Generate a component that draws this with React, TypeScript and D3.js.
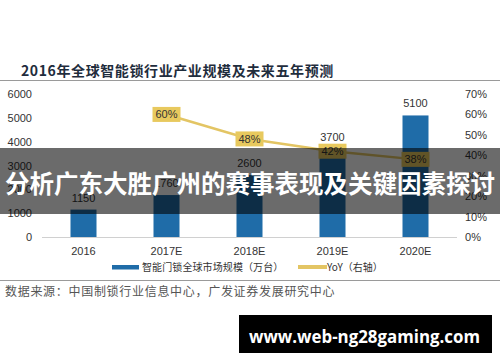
import React from 'react';
import * as d3 from 'd3';

const categories = ['2016', '2017E', '2018E', '2019E', '2020E'];
const marketSize = [1150, 1760, 2600, 3700, 5100];
const yoyCategories = ['2017E', '2018E', '2019E', '2020E'];
const yoyValues = [60, 48, 42, 38];
const leftTicks = [0, 1000, 2000, 3000, 4000, 5000, 6000];
const rightTicks = [0, 10, 20, 30, 40, 50, 60, 70];

const W = 500;
const H = 362;
const sans = "'Liberation Sans', Arial, sans-serif";
const cjk = "'Noto Sans CJK SC', 'Noto Sans', sans-serif";

export default function App() {
    // plot area
    const left = 42, right = 457, top = 94, bottom = 237;

    const x = d3.scaleBand().domain(categories).range([left, right]);
    const y = d3.scaleLinear().domain([0, 6000]).range([bottom, top]);
    const y2 = d3.scaleLinear().domain([0, 70]).range([bottom, top]);
    const barW = 26;

    const line = d3.line<number>()
        .x((_, i) => (x(yoyCategories[i]) as number) + x.bandwidth() / 2)
        .y(d => y2(d));

    return (
        <svg width={W} height={H} style={{ position: 'absolute', left: 0, top: 0, background: '#fff' }}>
            {/* title */}
            <text x={21} y={76} fontFamily={cjk} fontWeight={700} fontSize={14} fill="#1f2d3d" letterSpacing={0.6}>
                2016年全球智能锁行业产业规模及未来五年预测
            </text>
            <line x1={0} x2={W} y1={80.5} y2={80.5} stroke="#9a9a9a" strokeWidth={1} />

            {/* left axis */}
            {leftTicks.map(t => (
                <text key={'l' + t} x={32} y={y(t) + 4} textAnchor="end" fontFamily={sans} fontSize={11} fill="#333">{t}</text>
            ))}
            {/* right axis */}
            {rightTicks.map(t => (
                <text key={'r' + t} x={465} y={y2(t) + 4} fontFamily={sans} fontSize={11} fill="#333">{t}%</text>
            ))}

            <line x1={left} x2={right} y1={bottom + 0.5} y2={bottom + 0.5} stroke="#d0d0d0" strokeWidth={1} />

            {/* bars */}
            {marketSize.map((v, i) => {
                const cx = (x(categories[i]) as number) + x.bandwidth() / 2;
                return (
                    <g key={'b' + i}>
                        <rect x={cx - barW / 2} y={y(v)} width={barW} height={bottom - y(v)} fill="#1f6ca8" />
                        <text x={cx} y={y(v) - 8} textAnchor="middle" fontFamily={sans} fontSize={11} fill="#333">{v}</text>
                    </g>
                );
            })}

            {/* category labels */}
            {categories.map(c => (
                <text key={'c' + c} x={(x(c) as number) + x.bandwidth() / 2} y={255} textAnchor="middle" fontFamily={sans} fontSize={11} fill="#333">{c}</text>
            ))}

            {/* yoy line */}
            <path d={line(yoyValues) || ''} fill="none" stroke="#e3c564" strokeWidth={2.5} />
            {yoyValues.map((v, i) => {
                const cx = (x(yoyCategories[i]) as number) + x.bandwidth() / 2;
                const cy = y2(v);
                return (
                    <g key={'y' + i}>
                        <rect x={cx - 14} y={cy - 7.5} width={28} height={15} fill="#e8c95e" />
                        <text x={cx} y={cy + 4} textAnchor="middle" fontFamily={sans} fontSize={11} fill="#333">{v}%</text>
                    </g>
                );
            })}

            {/* legend */}
            <rect x={112} y={265} width={27} height={4.5} fill="#1f6ca8" />
            <text x={142} y={271} fontFamily={cjk} fontSize={10} fill="#333" letterSpacing={0.1}>智能门锁全球市场规模（万台）</text>
            <rect x={298} y={265} width={29} height={4} fill="#e3c564" />
            <text x={327} y={271} fontFamily={cjk} fontSize={10} fill="#333">YoY（右轴）</text>

            <line x1={0} x2={W} y1={280.5} y2={280.5} stroke="#9a9a9a" strokeWidth={1} />

            {/* source */}
            <text x={5} y={296} fontFamily={cjk} fontSize={12} fill="#555" letterSpacing={0.7}>
                数据来源：中国制锁行业信息中心，广发证券发展研究中心
            </text>

            {/* overlay banner */}
            <rect x={0} y={148} width={W} height={66} fill="#000" fillOpacity={0.58} />
            <text x={W / 2} y={193} textAnchor="middle" fontFamily={cjk} fontWeight={700} fontSize={24.5} fill="#fff">
                分析广东大胜广州的赛事表现及关键因素探讨
            </text>

            {/* watermark */}
            <rect x={239} y={315} width={253} height={38} fill="#000" />
            <text x={249} y={343} fontFamily="'Open Sans', sans-serif" fontWeight={700} fontSize={18} fill="#fff"
                textLength={231} lengthAdjust="spacingAndGlyphs">
                www.web-ng28gaming.com
            </text>
        </svg>
    );
}
